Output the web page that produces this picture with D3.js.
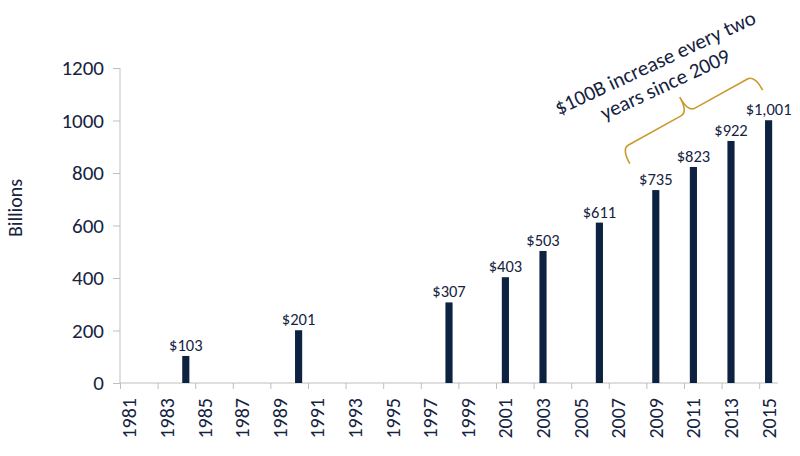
<!DOCTYPE html>
<html>
<head>
<meta charset="utf-8">
<script src="https://cdn.jsdelivr.net/npm/d3@7"></script>
<style>
  body { margin: 0; background: #fff; }
  svg { display: block; }
  text { font-family: Carlito, Calibri, Lato, sans-serif; fill: #15233f; }
</style>
</head>
<body>
<svg id="chart"></svg>
<script>
// categories on the x axis (every year, labels every other one)
const years = ["1981","1982","1983","1984","1985","1986","1987","1988","1989","1990",
  "1991","1992","1993","1994","1995","1996","1997","1998","1999","2000",
  "2001","2002","2003","2004","2005","2006","2007","2008","2009","2010",
  "2011","2012","2013","2014","2015"];
const labelYears = ["1981","1983","1985","1987","1989","1991","1993","1995","1997",
  "1999","2001","2003","2005","2007","2009","2011","2013","2015"];
// the bars
const barYears = ["1984","1990","1998","2001","2003","2006","2009","2011","2013","2015"];
const barValues = [103, 201, 307, 403, 503, 611, 735, 823, 922, 1001];
const barLabels = ["$103","$201","$307","$403","$503","$611","$735","$823","$922","$1,001"];
const yTicks = [0, 200, 400, 600, 800, 1000, 1200];

var width = 800, height = 456;
var margin = {top: 68, right: 22, bottom: 73, left: 120};
var fontFam = "Carlito, Calibri, Lato, sans-serif";
var textColor = "#15233f";

var svg = d3.select("#chart")
    .attr("width", width)
    .attr("height", height);

var x = d3.scaleBand()
    .domain(years)
    .range([margin.left, width - margin.right])
    .padding(0);

var y = d3.scaleLinear()
    .domain([0, 1200])
    .range([height - margin.bottom, margin.top]);

// boundaries between categories, for the tick marks
var xEdge = d3.scaleLinear()
    .domain([0, years.length])
    .range([margin.left, width - margin.right]);

var axisColor = "#bfbfbf";

// y axis
var gy = svg.append("g")
    .attr("transform", "translate(" + margin.left + ",0)")
    .call(d3.axisLeft(y).tickValues(yTicks).tickSize(7).tickPadding(9).tickFormat(d3.format("d")));
gy.select(".domain").attr("stroke", axisColor).attr("d", "M0," + y(1200) + "V" + y(0));
gy.selectAll(".tick line").attr("stroke", axisColor);
gy.selectAll("text").style("font-size", "21px").attr("fill", textColor)
    .style("font-family", fontFam);

// x axis tick marks every two categories
var gx = svg.append("g")
    .attr("transform", "translate(0," + y(0) + ")")
    .call(d3.axisBottom(xEdge).tickValues(d3.range(0, years.length, 2)).tickSize(6).tickFormat(""));
gx.select(".domain").attr("stroke", axisColor).attr("d", "M" + margin.left + ",0H" + (width - margin.right));
gx.selectAll(".tick line").attr("stroke", axisColor);

// x axis labels
var gxl = svg.append("g")
    .attr("transform", "translate(0," + y(0) + ")")
    .call(d3.axisBottom(x).tickValues(labelYears).tickSize(0));
gxl.select(".domain").remove();
gxl.selectAll("text")
    .style("font-size", "20px")
    .style("font-family", fontFam)
    .attr("fill", textColor)
    .attr("text-anchor", "end")
    .attr("transform", "rotate(-90)")
    .attr("x", -15)
    .attr("y", 0)
    .attr("dy", "0.35em");

// bars
var barRatio = 0.38;
var bw = x.bandwidth() * barRatio;
var bars = barYears.map(function(d, i) { return {year: d, value: barValues[i], label: barLabels[i]}; });

svg.selectAll(".bar")
    .data(bars)
    .enter().append("rect")
    .attr("class", "bar")
    .attr("x", function(d) { return x(d.year) + (x.bandwidth() - bw) / 2; })
    .attr("width", bw)
    .attr("y", function(d) { return y(d.value); })
    .attr("height", function(d) { return y(0) - y(d.value); })
    .attr("fill", "#0d2240");

svg.selectAll(".lbl")
    .data(bars)
    .enter().append("text")
    .attr("class", "lbl")
    .attr("x", function(d) { return x(d.year) + x.bandwidth() / 2; })
    .attr("y", function(d) { return y(d.value) - 5; })
    .attr("text-anchor", "middle")
    .style("font-size", "16.5px")
    .text(function(d) { return d.label; });

// y axis title
svg.append("text")
    .attr("transform", "translate(22,208) rotate(-90)")
    .attr("text-anchor", "middle")
    .style("font-size", "20px")
    .text("Billions");

// annotation: curly brace
var L = 152, h = 17, r = 8;
var brace = "M" + (-L/2) + "," + h +
    " Q" + (-L/2) + ",0 " + (-L/2 + r) + ",0" +
    " L" + (-r) + ",0" +
    " Q0,0 0," + (-h) +
    " Q0,0 " + r + ",0" +
    " L" + (L/2 - r) + ",0" +
    " Q" + (L/2) + ",0 " + (L/2) + "," + h;
svg.append("path")
    .attr("d", brace)
    .attr("transform", "translate(688,112) rotate(-29)")
    .attr("fill", "none")
    .attr("stroke", "#c99a2e")
    .attr("stroke-width", 1.6);

// annotation text
var note = svg.append("text")
    .attr("transform", "translate(658,69) rotate(-25)")
    .attr("text-anchor", "middle")
    .style("font-size", "21px");
note.append("tspan").attr("x", 0).attr("y", 0).text("$100B increase every two");
note.append("tspan").attr("x", 0).attr("y", 24).text("years since 2009");
</script>
</body>
</html>
